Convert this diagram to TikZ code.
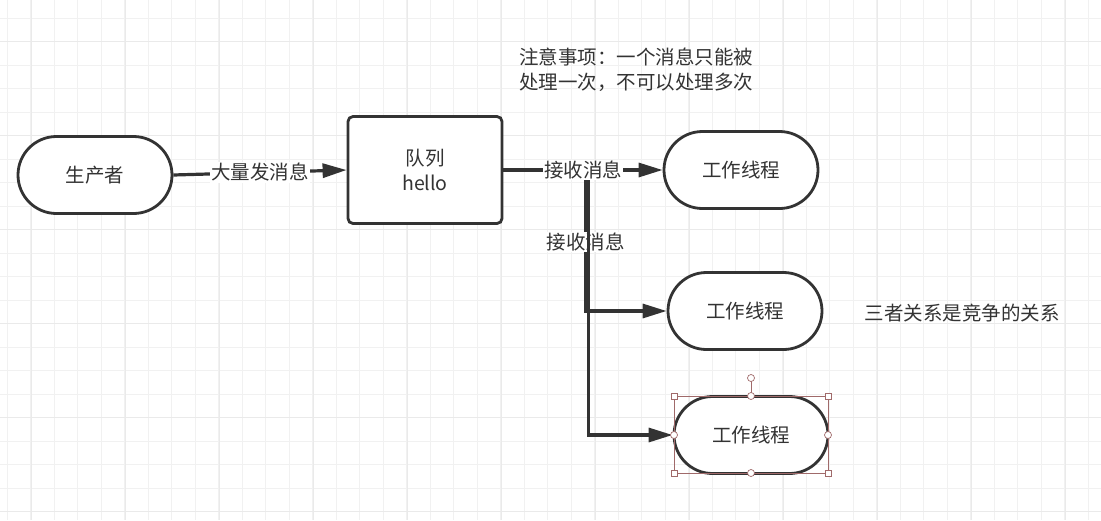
\documentclass[tikz,border=0pt]{standalone}
\usepackage{fontspec}
\setmainfont{Noto Sans CJK SC}
\usetikzlibrary{shapes.misc,arrows.meta}
\definecolor{ink}{HTML}{333333}
\definecolor{gridminor}{HTML}{F1F1F1}
\definecolor{gridmajor}{HTML}{EAEAEA}
\definecolor{handle}{HTML}{A06A6A}
\tikzset{
  txt/.style={text=ink,font=\fontsize{19.5}{25}\selectfont},
  term/.style={rounded rectangle,draw=ink,line width=2.8pt,fill=white,minimum width=154pt,minimum height=77pt,inner sep=0pt,txt},
  queuebox/.style={rectangle,rounded corners=5pt,draw=ink,line width=2.8pt,fill=white,minimum width=154pt,minimum height=107pt,inner sep=0pt,align=center,txt},
  conn/.style={draw=ink,line width=3.2pt,-{Triangle[length=24pt,width=14pt]}},
  lbl/.style={fill=white,inner sep=1pt,txt},
  hsq/.style={draw=handle,fill=white,line width=0.7pt,minimum size=6pt,inner sep=0pt,rectangle},
  hci/.style={draw=handle,fill=white,line width=0.7pt,minimum size=7pt,inner sep=0pt,circle},
}
\begin{document}
\begin{tikzpicture}[x=1pt,y=-1pt]
\useasboundingbox (0,0) rectangle (1101,520);
\fill[white] (0,0) rectangle (1101,520);
% grid
\foreach \i in {0,...,46} {\draw[gridminor,line width=0.7pt] ({7.3+23.5*\i},0) -- ({7.3+23.5*\i},520);}
\foreach \i in {0,...,21} {\draw[gridminor,line width=0.7pt] (0,{18.3+23.5*\i}) -- (1101,{18.3+23.5*\i});}
\foreach \i in {0,...,11} {\draw[gridmajor,line width=1pt] ({31+94*\i},0) -- ({31+94*\i},520);}
\foreach \i in {0,...,5} {\draw[gridmajor,line width=1pt] (0,{41.7+94*\i}) -- (1101,{41.7+94*\i});}

% nodes
\node[term] (prod) at (95,175) {生产者};
\node[queuebox] (queue) at (425,170) {队列\\hello};
\node[term] (w1) at (741,170) {工作线程};
\node[term] (w2) at (745,311) {工作线程};
\node[term] (w3) at (751,435) {工作线程};

\node[txt,align=left] (note) at (636,70) {注意事项：一个消息只能被\\处理一次，不可以处理多次};
\node[txt] (rel) at (962,313) {三者关系是竞争的关系};

% connectors
\draw[conn] (prod.east) -- node[lbl] {大量发消息} (queue.west);
\coordinate (splitA) at (585.5,170);
\coordinate (splitB) at (588.5,170);
\draw[conn] (queue.east) -- (splitA) |- node[lbl,pos=0.255] {接收消息} (w2.west);
\draw[conn] (queue.east) -- (splitB) |- (w3.west);
\draw[conn] (queue.east) -- node[lbl] {接收消息} (w1.west);

% selection handles around the third worker
\draw[handle,line width=0.5pt] (674,396) rectangle (828,473);
\draw[handle,line width=0.7pt] (751,378) -- (751,396);
\node[hci] (rot) at (751,378) {};
\node[hsq] (c1) at (674,396) {};
\node[hsq] (c2) at (828,396) {};
\node[hsq] (c3) at (674,473) {};
\node[hsq] (c4) at (828,473) {};
\node[hci] (m1) at (751,396) {};
\node[hci] (m2) at (751,473) {};
\node[hci] (m3) at (674,435) {};
\node[hci] (m4) at (828,435) {};
\end{tikzpicture}
\end{document}
